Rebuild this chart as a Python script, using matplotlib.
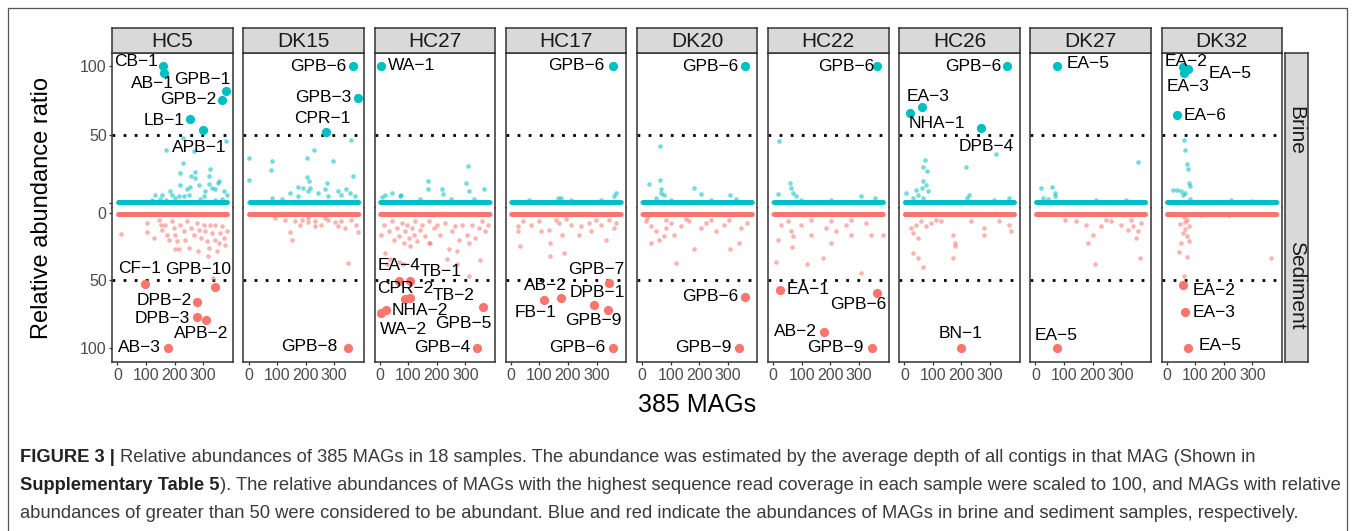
import numpy as np
import matplotlib
matplotlib.use("Agg")
from matplotlib import pyplot as plt

plt.rcParams['font.family'] = ['Liberation Sans', 'DejaVu Sans']

BLUE = "#00BFC4"
RED = "#F8766D"

samples = ["HC5", "DK15", "HC27", "HC17", "DK20", "HC22", "HC26", "DK27", "DK32"]
mags = np.arange(1, 386)
BASE = 0.5  # most MAGs sit at ~0 relative abundance

# ---- abundant MAGs (big labelled points): (name, MAG index, ratio)
brine_top = {
    "HC5": [("CB−1", 161, 100), ("AB−1", 163, 94.6), ("GPB−1", 380, 81.5), ("GPB−2", 366, 75),
            ("LB−1", 254, 61), ("APB−1", 300, 53.4)],
    "DK15": [("GPB−6", 365, 100), ("GPB−3", 382, 77), ("CPR−1", 270, 52)],
    "HC27": [("WA−1", 6, 100)],
    "HC17": [("GPB−6", 357, 100)],
    "DK20": [("GPB−6", 359, 100)],
    "HC22": [("GPB−6", 365, 100)],
    "HC26": [("GPB−6", 361, 100), ("EA−3", 61, 70), ("NHA−1", 19, 66), ("DPB−4", 270, 55)],
    "DK27": [("EA−5", 75, 100)],
    "DK32": [("EA−2", 58, 99.5), ("EA−5", 75, 97.8), ("EA−3", 62, 94.6), ("EA−6", 38, 64)],
}
sed_top = {
    "HC5": [("CF−1", 98, 52.7), ("GPB−10", 342, 55), ("DPB−2", 280, 65.6), ("DPB−3", 277, 77.3),
            ("APB−2", 311, 79.3), ("AB−3", 177, 99.8)],
    "DK15": [("GPB−8", 348, 100)],
    "HC27": [("EA−4", 66, 50.5), ("TB−1", 106, 50.5), ("CPR−2", 89, 63.5), ("TB−2", 106, 63),
             ("NHA−2", 21, 72), ("WA−2", 3, 74), ("GPB−5", 363, 70), ("GPB−4", 340, 100)],
    "HC17": [("GPB−7", 344, 51.7), ("AB−2", 177, 62.7), ("DPB−1", 291, 68), ("FB−1", 116, 64.4),
             ("GPB−9", 340, 71.7), ("GPB−6", 359, 100)],
    "DK20": [("GPB−6", 359, 62), ("GPB−9", 339, 100)],
    "HC22": [("EA−1", 24, 57), ("GPB−6", 364, 59.5), ("AB−2", 179, 88.5), ("GPB−9", 345, 100)],
    "HC26": [("BN−1", 198, 100)],
    "DK27": [("EA−5", 75, 100)],
    "DK32": [("EA−2", 57, 53), ("EA−3", 64, 73.4), ("EA−5", 76, 100)],
}

# ---- other MAGs that rise above the baseline: (MAG index, ratio)
brine_small = {
    "HC5": [(229, 47.5), (269, 38), (171, 39), (380, 45), (220, 22), (259, 20), (273, 23), (323, 25),
            (321, 20), (270, 18), (255, 12), (220, 13), (244, 10), (185, 8.5), (156, 6), (133, 6),
            (191, 6), (215, 5), (232, 5), (250, 6), (284, 13), (308, 8.5), (331, 11), (343, 10),
            (355, 16), (372, 8.5), (383, 6), (302, 5), (229, 29), (351, 15), (320, 14), (150, 3),
            (170, 2.5), (290, 3), (340, 2.5), (365, 3), (200, 3.5), (120, 2)],
    "DK15": [(360, 46), (3, 33), (81, 31), (78, 24), (206, 33), (230, 39), (296, 31), (1, 17),
             (206, 19), (212, 16), (366, 20), (273, 14.5), (174, 12), (189, 11), (214, 11), (208, 8.5),
             (244, 7), (267, 10), (313, 8.5), (342, 10), (354, 7), (145, 7), (81, 4), (116, 3),
             (174, 5), (279, 5), (324, 6), (371, 5)],
    "HC27": [(308, 27), (302, 15), (169, 16), (168, 10), (365, 10), (218, 10), (221, 6.5), (20, 6),
             (74, 6), (311, 8.5), (43, 7), (7, 4.5), (72, 5.5), (140, 3), (250, 3), (330, 3)],
    "HC17": [(62, 2.5), (176, 3.5), (211, 2), (369, 7), (360, 5.5), (316, 2.5), (165, 3.5)],
    "DK20": [(63, 42), (23, 14), (63, 17), (67, 10), (76, 6), (49, 4), (181, 11), (207, 6.5),
             (309, 6), (102, 2.5), (243, 2.5), (330, 3), (67, 7)],
    "HC22": [(21, 45), (58, 15), (62, 11), (70, 7), (79, 5), (18, 6.5), (308, 5), (357, 3.5),
             (97, 2.5), (202, 2.5)],
    "HC26": [(322, 35.5), (72, 31.5), (67, 26.5), (216, 26), (79, 23.5), (67, 16), (76, 13.5),
             (62, 11), (40, 9.7), (5, 7), (49, 6), (84, 8.5), (67, 3.5), (32, 4), (225, 6), (220, 4),
             (366, 4), (313, 2.5)],
    "DK27": [(360, 30), (18, 11), (58, 11.5), (67, 7.7), (70, 5), (26, 4), (44, 3), (211, 2.5),
             (316, 2)],
    "DK32": [(61, 46), (63, 39), (71, 28.5), (74, 24.5), (77, 14.5), (83, 12.5), (23, 9.5), (35, 9.5),
             (51, 9), (59, 5.7), (65, 7), (83, 3.2), (226, 2), (300, 1.5)],
}
sed_small = {
    "HC5": [(11, 15.6), (102, 7.7), (102, 14), (127, 18.6), (145, 5), (151, 8.7), (156, 12.4),
            (168, 8.7), (174, 16), (180, 19.8), (191, 6.2), (197, 11), (203, 16), (209, 21), (215, 26.5),
            (220, 8.7), (232, 13.6), (238, 19.8), (244, 6.2), (250, 26), (259, 11), (267, 16), (278, 7.4),
            (284, 12.4), (282, 28), (294, 18.6), (302, 8.7), (308, 13.6), (313, 21), (319, 26), (325, 8.7),
            (331, 15), (340, 19.8), (342, 8.7), (348, 28.5), (354, 22), (360, 15), (366, 10), (372, 18.6),
            (377, 23.5), (383, 13.6), (317, 32), (334, 48), (200, 27)],
    "DK15": [(145, 14), (151, 20), (348, 37), (383, 14), (377, 9), (93, 4), (127, 5), (162, 6),
             (186, 5), (209, 7), (232, 6), (255, 9), (279, 5), (302, 7), (325, 6), (337, 11), (360, 5),
             (209, 4), (267, 4), (313, 10), (232, 10), (180, 9)],
    "HC27": [(3, 16), (14, 8.7), (32, 13.6), (43, 6.2), (49, 19.8), (61, 11), (67, 17), (78, 7.4),
             (84, 22), (90, 13.6), (96, 8.7), (101, 18.6), (107, 24.8), (113, 11), (119, 16), (125, 6.2),
             (131, 21), (142, 12.4), (148, 8.7), (160, 17.3), (171, 6.2), (177, 22), (189, 11), (200, 8.7),
             (212, 16), (229, 7.4), (241, 27), (253, 13.6), (264, 10), (276, 19.8), (288, 8.7), (305, 16),
             (311, 22), (322, 8.7), (334, 18.6), (346, 11), (352, 34.7), (357, 6.2), (369, 13.6),
             (380, 8.7), (20, 29.7), (35, 34), (26, 38), (67, 36), (270, 38), (171, 22), (80, 38),
             (311, 47), (237, 34), (271, 28.5)],
    "HC17": [(32, 24.8), (26, 10), (26, 13.6), (70, 8.7), (97, 6.2), (105, 13.6), (132, 12.4),
             (137, 22), (137, 32), (167, 7.4), (179, 16), (185, 29.7), (211, 8.7), (237, 16), (246, 10),
             (272, 7.4), (281, 13.6), (316, 8.7), (334, 19.8), (360, 11), (369, 7.4), (44, 6.2),
             (158, 5), (299, 5), (193, 4.2), (343, 5)],
    "DK20": [(14, 6.2), (32, 10), (49, 13.6), (32, 22), (58, 19.8), (76, 17), (84, 11), (102, 7.4),
             (120, 37), (111, 16), (137, 10), (163, 6.2), (181, 26.5), (207, 11), (225, 7.4), (260, 13.6),
             (286, 8.7), (309, 27), (339, 22), (348, 11), (366, 7.4), (18, 3.7), (84, 5), (155, 4.2),
             (304, 5), (243, 5)],
    "HC22": [(9, 36), (18, 19.8), (26, 8.7), (62, 13.6), (67, 25.5), (97, 8.7), (118, 38), (132, 16),
             (176, 33), (202, 6.2), (202, 22), (220, 13.6), (255, 8.7), (272, 16), (308, 44.6), (343, 16),
             (383, 16), (325, 7.4), (53, 6.2), (132, 5), (272, 5), (185, 11), (70, 17)],
    "HC26": [(32, 29.7), (49, 33.4), (67, 40.3), (23, 11), (32, 15), (40, 8.7), (49, 18.6), (58, 6.2),
             (76, 10), (93, 7.4), (111, 5), (172, 16), (178, 22), (172, 33), (178, 24.8), (279, 11),
             (279, 16), (330, 6.2), (374, 13.6), (366, 8.7), (234, 6.2), (128, 6.2)],
    "DK27": [(366, 33.4), (360, 13.6), (369, 7.4), (351, 18.6), (343, 10), (207, 38), (202, 16),
             (185, 22), (176, 8.7), (141, 6.2), (228, 10), (264, 6.2), (299, 8.7), (325, 12.4), (105, 5),
             (246, 5), (334, 5)],
    "DK32": [(60, 3), (65, 6.6), (71, 4.9), (48, 7.8), (77, 10), (63, 11.5), (56, 15), (71, 17),
             (52, 22), (79, 21), (45, 29), (71, 32.7), (365, 33), (62, 47), (122, 1.7), (220, 1.2)],
}

# ---- label anchor positions (text centres, data units) -- layout only
label_xy = {
    ("HC5", "b", "CB−1"): (66, 103), ("HC5", "b", "AB−1"): (123, 87), ("HC5", "b", "GPB−1"): (298, 90),
    ("HC5", "b", "GPB−2"): (249, 75.6), ("HC5", "b", "LB−1"): (163, 60), ("HC5", "b", "APB−1"): (288, 40.4),
    ("HC5", "s", "CF−1"): (78, 41), ("HC5", "s", "GPB−10"): (283, 42), ("HC5", "s", "DPB−2"): (165, 65),
    ("HC5", "s", "DPB−3"): (157, 78), ("HC5", "s", "APB−2"): (294, 89), ("HC5", "s", "AB−3"): (78, 100),
    ("DK15", "b", "GPB−6"): (245, 99.5), ("DK15", "b", "GPB−3"): (262, 77), ("DK15", "b", "CPR−1"): (257, 62),
    ("DK15", "s", "GPB−8"): (214, 99),
    ("HC27", "b", "WA−1"): (112, 100.7),
    ("HC27", "s", "EA−4"): (66, 39), ("HC27", "s", "TB−1"): (214, 43), ("HC27", "s", "CPR−2"): (89, 56),
    ("HC27", "s", "TB−2"): (260, 61), ("HC27", "s", "NHA−2"): (140, 72), ("HC27", "s", "WA−2"): (83, 86),
    ("HC27", "s", "GPB−5"): (294, 82), ("HC27", "s", "GPB−4"): (220, 100),
    ("HC17", "b", "GPB−6"): (228, 100.7),
    ("HC17", "s", "GPB−7"): (299, 41.7), ("HC17", "s", "AB−2"): (120, 54), ("HC17", "s", "DPB−1"): (302, 59),
    ("HC17", "s", "FB−1"): (86, 74), ("HC17", "s", "GPB−9"): (290, 79.5), ("HC17", "s", "GPB−6"): (234, 100),
    ("DK20", "b", "GPB−6"): (238, 99.5),
    ("DK20", "s", "GPB−6"): (238, 62), ("DK20", "s", "GPB−9"): (213, 100),
    ("HC22", "b", "GPB−6"): (255, 99.5),
    ("HC22", "s", "EA−1"): (122, 57), ("HC22", "s", "GPB−6"): (299, 68), ("HC22", "s", "AB−2"): (79, 88),
    ("HC22", "s", "GPB−9"): (217, 100),
    ("HC26", "b", "GPB−6"): (241, 100), ("HC26", "b", "EA−3"): (82, 78), ("HC26", "b", "NHA−1"): (115, 58.4),
    ("HC26", "b", "DPB−4"): (288, 41.6),
    ("HC26", "s", "BN−1"): (198, 89),
    ("DK27", "b", "EA−5"): (186, 102),
    ("DK27", "s", "EA−5"): (72, 91),
    ("DK32", "b", "EA−2"): (68, 103), ("DK32", "b", "EA−5"): (221, 94.6), ("DK32", "b", "EA−3"): (75, 84.7),
    ("DK32", "b", "EA−6"): (135, 64),
    ("DK32", "s", "EA−2"): (165, 57.6), ("DK32", "s", "EA−3"): (166, 74), ("DK32", "s", "EA−5"): (186, 98.3),
}

caption_lines = [
    [("FIGURE 3 | ", "bold"),
     ("Relative abundances of 385 MAGs in 18 samples. The abundance was estimated by the average depth "
      "of all contigs in that MAG (Shown in", "normal")],
    [("Supplementary Table 5", "bold"),
     ("). The relative abundances of MAGs with the highest sequence read coverage in each sample were "
      "scaled to 100, and MAGs with relative", "normal")],
    [("abundances of greater than 50 were considered to be abundant. Blue and red indicate the abundances "
      "of MAGs in brine and sediment samples, respectively.", "normal")],
]

W, H = 1355, 531
fig = plt.figure(figsize=(W / 100, H / 100), dpi=100)


def px_axes(x0, y0, x1, y1):
    return fig.add_axes([x0 / W, 1 - y1 / H, (x1 - x0) / W, (y1 - y0) / H])


def draw_layer(ax, s, top, small, color, layer):
    top_idx = {m for _, m, _ in top}
    small_idx = {m for m, _ in small}
    base_x = [m for m in mags if m not in top_idx and m not in small_idx]
    ax.scatter(base_x, np.full(len(base_x), BASE), s=11, color=color, alpha=0.55, lw=0, zorder=2)
    if small:
        sx, sy = zip(*small)
        ax.scatter(sx, sy, s=11, color=color, alpha=0.55, lw=0, zorder=2)
    for name, m, v in top:
        ax.scatter([m], [v], s=44, color=color, lw=0, zorder=3)
        tx, ty = label_xy[(s, layer, name)]
        ax.text(tx, ty, name, ha="center", va="center", fontsize=12.5, color="black",
                zorder=4, clip_on=True)


def grey_box(ax):
    ax.set_facecolor("#D9D9D9")
    ax.set_xticks([])
    ax.set_yticks([])
    for sp in ax.spines.values():
        sp.set_color(EDGE)
        sp.set_linewidth(1.1)


PL, STEP, PW = 112.3, 131.15, 120.5
Y_TOP, Y_MID, Y_BOT = 53, 208, 362
EDGE = "#333333"

for i, s in enumerate(samples):
    x0 = PL + i * STEP
    axb = px_axes(x0, Y_TOP, x0 + PW, Y_MID)
    axs = px_axes(x0, Y_MID, x0 + PW, Y_BOT)
    for ax in (axb, axs):
        ax.set_xlim(-18, 404)
        ax.axhline(50, color="black", lw=2.0, ls=(0, (1, 3)), zorder=1)
        for sp in ax.spines.values():
            sp.set_color(EDGE)
            sp.set_linewidth(1.1)
        ax.tick_params(colors=EDGE, length=2.5, width=0.9, labelsize=11.5, labelcolor="#4D4D4D", pad=1.5)
    axb.set_ylim(-3.6, 109.5)
    axs.set_ylim(110.4, -3.7)
    axb.spines["bottom"].set_visible(False)
    axs.spines["top"].set_visible(False)
    draw_layer(axb, s, brine_top[s], brine_small[s], BLUE, "b")
    draw_layer(axs, s, sed_top[s], sed_small[s], RED, "s")

    axb.set_xticks([])
    axs.set_xticks([0, 100, 200, 300])
    if i == 0:
        axb.set_yticks([0, 50, 100])
        axb.set_yticklabels(["", "50", "100"])
        axs.set_yticks([0, 50, 100])
        axs.set_yticklabels(["0", "50", "100"])
    else:
        axb.set_yticks([])
        axs.set_yticks([])

    st = px_axes(x0, 28, x0 + PW, Y_TOP)
    grey_box(st)
    st.text(0.5, 0.45, s, ha="center", va="center", fontsize=15, color="#1A1A1A", transform=st.transAxes)

# right-hand row strip
rs = px_axes(1284.5, Y_TOP, 1308, Y_BOT)
grey_box(rs)
rs.set_ylim(Y_BOT, Y_TOP)
rs.set_xlim(0, 1)
for label, y0, y1 in (("Brine", Y_TOP, Y_MID), ("Sediment", Y_MID, Y_BOT)):
    rs.text(0.5, (y0 + y1) / 2, label, ha="center", va="center", rotation=-90, fontsize=15,
            color="#1A1A1A")

fig.text(42 / W, 1 - 208 / H, "Relative abundance ratio", rotation=90, ha="center", va="center", fontsize=17)
fig.text(697 / W, 1 - 405 / H, "385 MAGs", ha="center", va="center", fontsize=18)

# outer figure frame
fig.add_artist(plt.Line2D([8 / W, 8 / W, 1347 / W, 1347 / W], [0, 1 - 8 / H, 1 - 8 / H, 0],
                          color="#555555", lw=0.9, transform=fig.transFigure))

# caption with bold fragments, sized so line 2 spans the reference width
renderer = fig.canvas.get_renderer()
probe = 0
for txt, weight in caption_lines[1]:
    t = fig.text(0, 0, txt, fontsize=12, weight=weight)
    probe += t.get_window_extent(renderer=renderer).width
    t.remove()
cap_size = 12 * (1342 - 20) / probe

for k, parts in enumerate(caption_lines):
    x = 20
    y = 1 - (458 + k * 28) / H
    for txt, weight in parts:
        t = fig.text(x / W, y, txt, ha="left", va="center", fontsize=cap_size, weight=weight,
                     color="#222222" if weight == "bold" else "#3A3A3A")
        x += t.get_window_extent(renderer=renderer).width

fig.savefig("out.png", dpi=100)
